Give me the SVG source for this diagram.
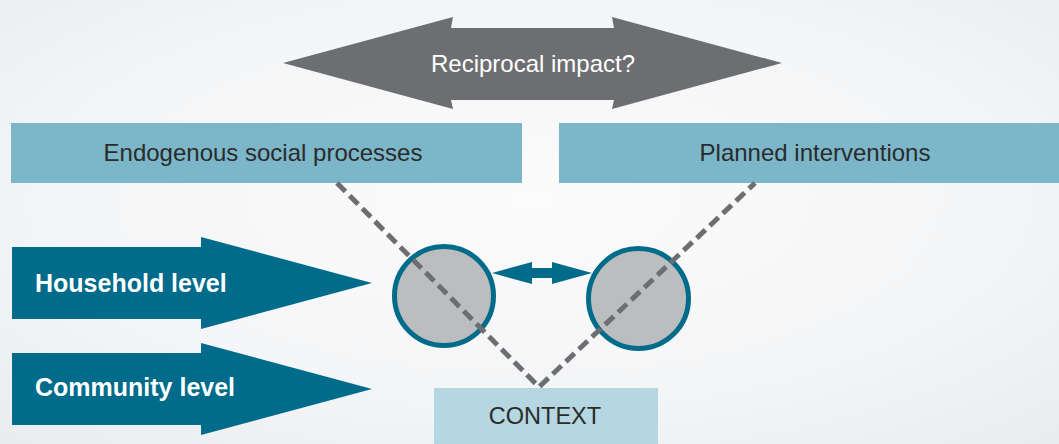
<svg xmlns="http://www.w3.org/2000/svg" width="1059" height="444" viewBox="0 0 1059 444">
<defs>
<radialGradient id="bg" cx="50%" cy="45%" r="75%">
<stop offset="0" stop-color="#fbfbfc"/>
<stop offset="0.6" stop-color="#f4f5f6"/>
<stop offset="1" stop-color="#e9ebed"/>
</radialGradient>
<style>
.box{fill:#7bb6c9}
.lbl{font-family:"Liberation Sans",Arial,sans-serif;font-size:24px;fill:#2b2b2b;text-anchor:middle}
.lvl{font-family:"Liberation Sans",Arial,sans-serif;font-size:25px;font-weight:bold;fill:#ffffff}
.teal{fill:#006b8a}
.dash{stroke:#6d6e71;stroke-width:5;stroke-dasharray:12 6;fill:none}
.circ{fill:#bcbdbf;stroke:#006b8a;stroke-width:5}
</style>
</defs>
<rect width="1059" height="444" fill="url(#bg)"/>

<g id="reciprocal">
<polygon points="283,63 453,17 451,28 614,28 612,17 782,63 612,109 614,100 451,100 453,109" fill="#6d6e71"/>
<text x="533" y="72" class="lbl" style="fill:#ffffff">Reciprocal impact?</text>
</g>

<g id="endogenous">
<rect class="box" x="11" y="123" width="511" height="60"/>
<text x="263" y="161" class="lbl">Endogenous social processes</text>
</g>

<g id="planned">
<rect class="box" x="559" y="123" width="500" height="60"/>
<text x="815" y="161" class="lbl">Planned interventions</text>
</g>

<g id="household">
<polygon class="teal" points="12,247 201,247 201,237 372,283 201,329 201,319 12,319"/>
<text x="35" y="292" class="lvl">Household level</text>
</g>

<g id="community">
<polygon class="teal" points="12,353 201,353 201,343 372,389 201,435 201,425 12,425"/>
<text x="35" y="396" class="lvl">Community level</text>
</g>

<g id="context">
<rect x="434" y="388" width="224" height="56" fill="#b4d7e1"/>
<text x="545" y="424" class="lbl" style="font-size:23.5px">CONTEXT</text>
</g>

<g id="circle-left">
<circle class="circ" cx="444" cy="296" r="49.5"/>
</g>
<g id="circle-right">
<circle class="circ" cx="638.5" cy="298.5" r="50"/>
</g>

<g id="connectors">
<polyline class="dash" points="337,183 539,387 755,183"/>
<polygon class="teal" points="492,273 532,262 532,268 552,268 552,262 592,273 552,284 552,278 532,278 532,284"/>
</g>
</svg>
